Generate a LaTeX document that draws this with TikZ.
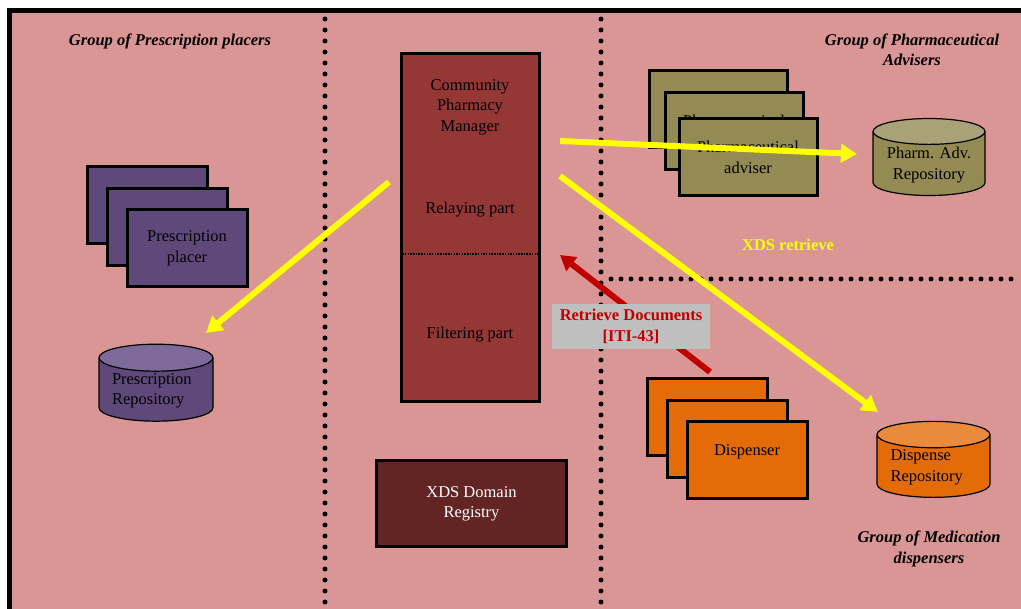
\documentclass[tikz,border=0pt]{standalone}
\usepackage{fontspec}
\setmainfont{Liberation Serif}
\usetikzlibrary{shapes.geometric, arrows.meta, positioning}

\definecolor{bgpink}{HTML}{D99694}
\definecolor{placercol}{HTML}{5F497A}
\definecolor{placertop}{HTML}{7E6A9A}
\definecolor{advcol}{HTML}{948A54}
\definecolor{advtop}{HTML}{A9A177}
\definecolor{dispcol}{HTML}{E36C09}
\definecolor{disptop}{HTML}{EA8B3C}
\definecolor{mgrcol}{HTML}{953735}
\definecolor{regcol}{HTML}{632523}
\definecolor{labelgray}{HTML}{BFBFBF}
\definecolor{retred}{HTML}{C00000}
\definecolor{xdsyellow}{HTML}{FFFF00}

\begin{document}
\begin{tikzpicture}[
  x=1pt, y=-1pt,
  font=\fontsize{16.5}{20.5}\selectfont,
  stack/.style={draw, line width=3pt, rectangle, fill=#1, align=center, minimum height=77pt, inner sep=1pt},
  repo/.style={cylinder, shape border rotate=90, draw, line width=1.2pt, aspect=0.3, align=left, inner sep=1pt},
  group/.style={align=center, font=\fontsize{16.5}{20.5}\selectfont\bfseries\itshape},
  divider/.style={line width=5pt, line cap=round, dash pattern=on 0pt off #1},
  yarrow/.style={draw=xdsyellow, line width=6pt, -{Triangle[length=16pt, width=18pt]}},
  rarrow/.style={draw=retred, line width=6pt, -{Triangle[length=15pt, width=17pt]}}
]
\useasboundingbox (0,0) rectangle (1021,609);

% Background and frame
\fill[bgpink] (8,8) rectangle (1021,609);
\draw[line width=5pt] (1021,10.5) -- (9.5,10.5) -- (9.5,609);

% Zone dividers
\draw[divider=11pt] (325,19) -- (325,609);
\draw[divider=11pt] (601,19) -- (601,609);
\draw[divider=10pt] (611,279) -- (1021,279);

% Group titles
\node (gplacers) [group] at (170,41) {Group of Prescription placers};
\node (gadvisers) [group] at (912,50) {Group of Pharmaceutical\\Advisers};
\node (gdispensers) [group] at (929,549) {Group of Medication\\dispensers};

% Prescription placers
\node (placerc) [stack=placercol, minimum width=120pt] at (147,205.5) {};
\node (placerb) [stack=placercol, minimum width=120pt] at (167,227.5) {};
\node (placer) [stack=placercol, minimum width=120pt] at (187,248.5) {Prescription\\placer};
\node (prrepo) [repo, text width=88pt, minimum width=114pt, minimum height=77pt, cylinder uses custom fill, cylinder body fill=placercol, cylinder end fill=placertop] at (156,391) {Prescription\\Repository};

% Community Pharmacy Manager
\node (mgr) [draw, line width=3pt, fill=mgrcol, minimum width=138pt, minimum height=348pt] at (470,228) {};
\draw[line width=1.5pt, dash pattern=on 1.5pt off 1.2pt] (mgr.west |- 0,254) -- (mgr.east |- 0,254);
\node (mgrname) [align=center] at (470,107) {Community\\Pharmacy\\Manager};
\node (relay) at (470,210) {Relaying part};
\node (filter) at (470,335) {Filtering part};

\node (registry) [draw, line width=3pt, fill=regcol, text=white, align=center, minimum width=190pt, minimum height=86pt] at (471.5,504) {XDS Domain\\Registry};

% Pharmaceutical advisers
\node (adviserc) [stack=advcol, minimum width=138pt] at (718,109.5) {};
\node (adviserb) [stack=advcol, minimum width=138pt] at (734,131) {Pharmaceutical\\adviser};
\node (adviser) [stack=advcol, minimum width=138pt] at (748,157.5) {Pharmaceutical\\adviser};
\node (advrepo) [repo, align=center, minimum width=112pt, minimum height=77pt, cylinder uses custom fill, cylinder body fill=advcol, cylinder end fill=advtop] at (929,165) {Pharm. Adv.\\Repository};

% Dispensers
\node (dispc) [stack=dispcol, minimum width=120pt] at (707,417.5) {};
\node (dispb) [stack=dispcol, minimum width=120pt] at (727,439.5) {};
\node (disp) [stack=dispcol, minimum width=120pt] at (747,460.5) {Dispenser\\~};
\node (disprepo) [repo, text width=86pt, minimum width=113pt, minimum height=76pt, cylinder uses custom fill, cylinder body fill=dispcol, cylinder end fill=disptop] at (933.5,467.5) {Dispense\\Repository};

\node (xdsret) [text=xdsyellow, font=\fontsize{16.5}{20.5}\selectfont\bfseries] at (788,245) {XDS retrieve};

% Arrows
\coordinate (ystartA) at (560,141);
\coordinate (yendA) at (857,154);
\coordinate (ystartB) at (389,182);
\coordinate (yendB) at (206,333);
\coordinate (ystartC) at (560,176);
\coordinate (yendC) at (878,412);
\coordinate (rstart) at (710,372);
\coordinate (rend) at (560,255);

\draw[rarrow] (rstart) -- (rend);
\node (retdocs) [fill=labelgray, text=retred, align=center, font=\fontsize{16.5}{20.5}\selectfont\bfseries, minimum width=158pt, minimum height=45pt, inner sep=0pt] at (631,326.5) {Retrieve Documents\\{[ITI-43]}};

\draw[yarrow] (ystartA) -- (yendA);
\draw[yarrow] (ystartB) -- (yendB);
\draw[yarrow] (ystartC) -- (yendC);

\end{tikzpicture}
\end{document}
